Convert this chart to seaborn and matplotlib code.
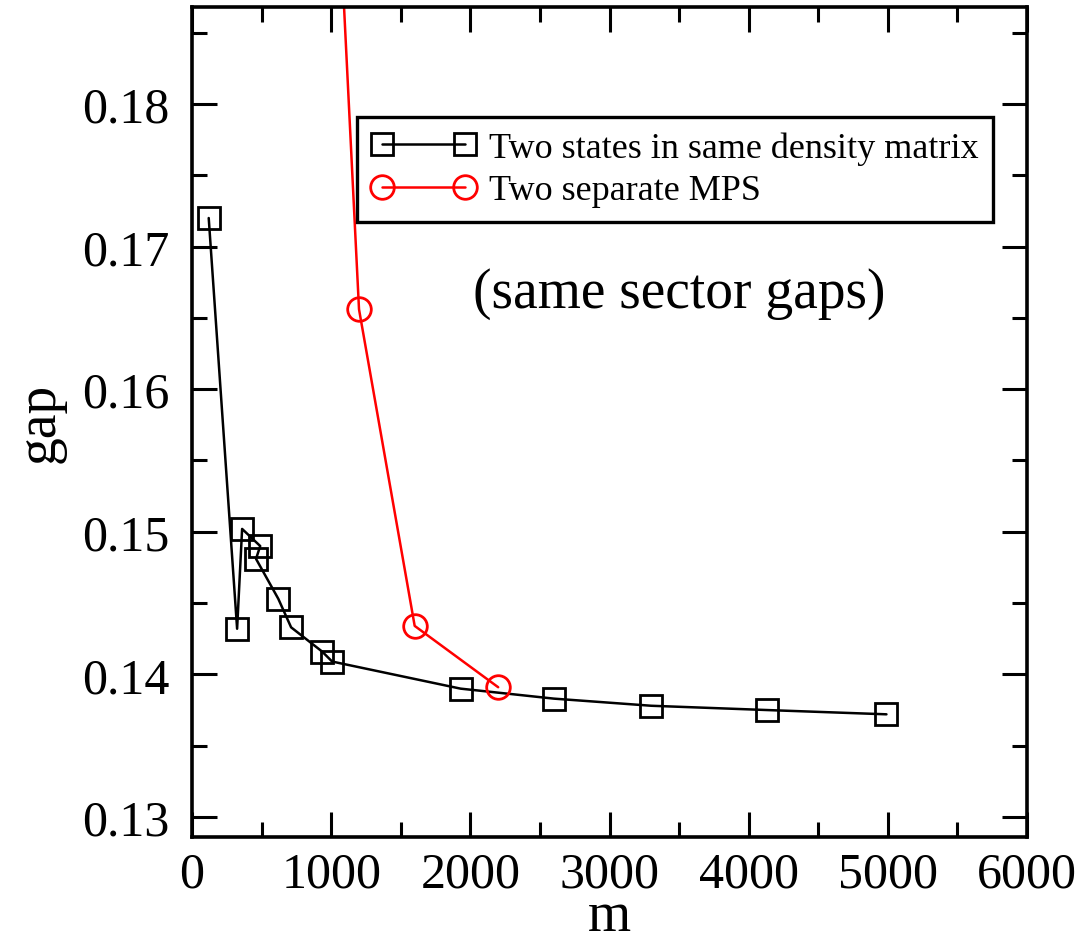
import matplotlib
matplotlib.use("Agg")
import matplotlib.pyplot as plt
import seaborn as sns
from matplotlib.ticker import MultipleLocator

# data
m_same = [120, 324, 360, 490, 460, 620, 712, 935, 1007, 1930, 2600, 3300, 4130, 4990]
gap_same = [0.1720, 0.1432, 0.1502, 0.1490, 0.1481, 0.1453, 0.1433, 0.1416,
            0.1409, 0.1390, 0.1383, 0.1378, 0.1375, 0.1372]
m_sep = [1000, 1200, 1600, 2200]
gap_sep = [0.2050, 0.1656, 0.1434, 0.1391]

sns.set_style("ticks")
plt.rcParams['font.family'] = ['Liberation Serif', 'DejaVu Serif']
for k in ["text.color", "axes.labelcolor", "xtick.color", "ytick.color", "axes.edgecolor"]:
    plt.rcParams[k] = "black"

fig = plt.figure(figsize=(10.83, 9.37), dpi=100)
ax = fig.add_axes([0.1773, 0.1057, 0.7710, 0.8858])

sns.lineplot(x=m_same, y=gap_same, sort=False, estimator=None, ax=ax,
             color="black", lw=1.8, marker="s", markersize=16,
             markerfacecolor="none", markeredgecolor="black", markeredgewidth=2,
             label="Two states in same density matrix")
sns.lineplot(x=m_sep, y=gap_sep, sort=False, estimator=None, ax=ax,
             color="red", lw=1.8, marker="o", markersize=17,
             markerfacecolor="none", markeredgecolor="red", markeredgewidth=2,
             label="Two separate MPS")

ax.set_xlim(0, 6000)
ax.set_ylim(0.1286, 0.1868)
ax.xaxis.set_major_locator(MultipleLocator(1000))
ax.xaxis.set_minor_locator(MultipleLocator(500))
ax.yaxis.set_minor_locator(MultipleLocator(0.005))
ax.set_yticks([0.13, 0.14, 0.15, 0.16, 0.17, 0.18])
ax.set_yticklabels(["0.13", "0.14", "0.15", "0.16", "0.17", "0.18"])

ax.tick_params(which="both", direction="in", top=True, right=True, width=2.2,
               labelsize=36, colors="black")
ax.tick_params(axis="x", pad=10)
ax.tick_params(axis="y", pad=16)
ax.tick_params(which="major", length=18)
ax.tick_params(which="minor", length=11)
for s in ax.spines.values():
    s.set_linewidth(2.6)
    s.set_color("black")
    s.set_visible(True)

ax.set_xlabel("m", fontsize=40, labelpad=-5)
ax.set_ylabel("gap", fontsize=40, labelpad=12)

ax.text(0.583, 0.655, "(same sector gaps)", transform=ax.transAxes,
        fontsize=40, ha="center", va="center")

leg = ax.legend(loc="upper left", bbox_to_anchor=(0.1976, 0.8675),
                borderaxespad=0, fontsize=26, numpoints=2, handlelength=2.9,
                frameon=True, fancybox=False, edgecolor="black", framealpha=1,
                borderpad=0.4, labelspacing=0.25, handletextpad=0.35)
leg.get_frame().set_linewidth(2.4)

fig.savefig("out.png", dpi=100)
